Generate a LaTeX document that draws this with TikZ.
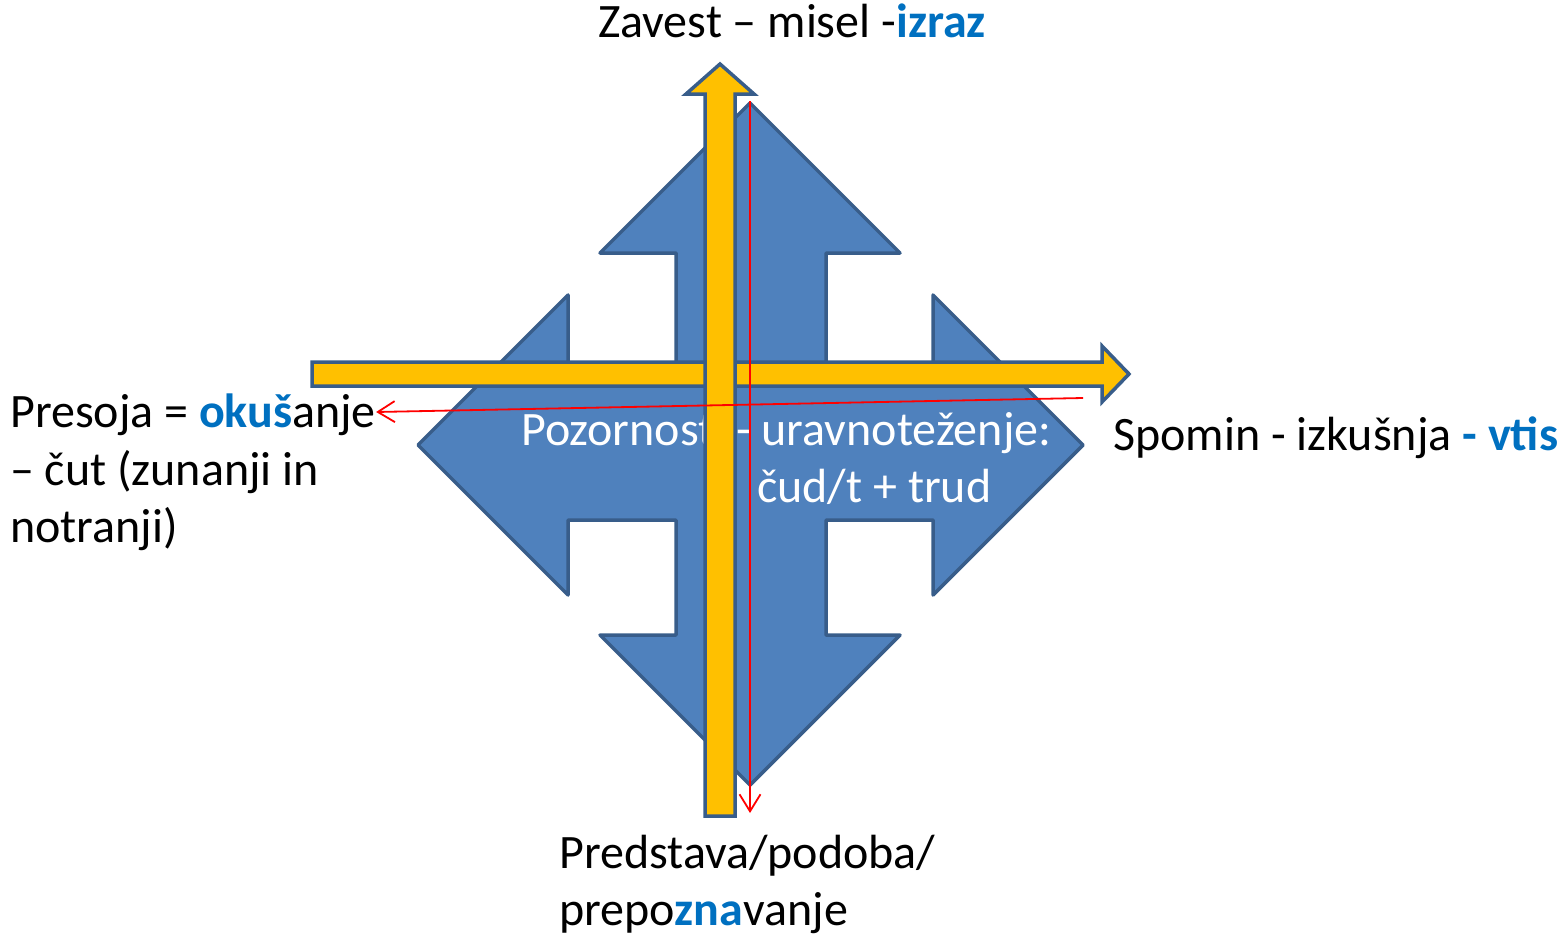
\documentclass[tikz,border=0pt]{standalone}
\usepackage{fontspec}
\setmainfont{Carlito}
\usetikzlibrary{arrows.meta}
\definecolor{arrowblue}{HTML}{4F81BD}
\definecolor{edgeblue}{HTML}{385D8A}
\definecolor{bargold}{HTML}{FFC000}
\definecolor{wordblue}{HTML}{0070C0}
\newcommand{\bigtext}{\fontsize{48}{58}\selectfont}
\newcommand{\keyword}[1]{\textbf{\color{wordblue}#1}}
\tikzset{
    % The big four way arrow in the middle
    cross fill/.style={fill=arrowblue, draw=edgeblue, line width=3.5pt,
        line join=round},
%
    % The two thin yellow arrows across it
    bar fill/.style={fill=bargold, draw=edgeblue, line width=3.5pt},
%
    % Thin red pointers drawn on top
    pointer/.style={red, line width=1.8pt,
        -{Straight Barb[length=17pt, width=21pt]}},
%
    % Every piece of text is set on its own baseline
    caption/.style={anchor=base west, inner sep=0pt, font=\bigtext}}

\begin{document}
\begin{tikzpicture}[x=1pt, y=-1pt]
\useasboundingbox (0,0) rectangle (1562,935);

% four way arrow
\draw [cross fill]
    (750,103) -- (900,253) -- (826,253) -- (826,370) -- (933,370) --
    (933,295) -- (1083,445) -- (933,595) -- (933,520) -- (826,520) --
    (826,635) -- (900,635) -- (750,785) -- (600,635) -- (676,635) --
    (676,520) -- (568,520) -- (568,595) -- (418,445) -- (568,295) --
    (568,370) -- (676,370) -- (676,253) -- (600,253) -- cycle;

\node [caption, white] (inner1) at (521,445) {Pozornost~ - uravnoteženje:};
\node [caption, white] (inner2) at (757,502) {čud/t + trud};

% yellow arrows
\draw [bar fill]
    (312,362) -- (1102,362) -- (1102,346) -- (1129,374) -- (1102,402) --
    (1102,386) -- (312,386) -- cycle;
\draw [bar fill]
    (720,64) -- (754,94) -- (735,94) -- (735,816) -- (705,816) --
    (705,94) -- (686,94) -- cycle;

% labels round the cross
\node [caption] (top) at (598,37)
    {Zavest – misel -\keyword{izraz}};
\node [caption] (right) at (1113,450)
    {Spomin - izkušnja \keyword{- vtis}};
\node [caption] (left1) at (10,427) {Presoja = \keyword{okuš}anje};
\node [caption] (left2) at (10,485) {– čut (zunanji in};
\node [caption] (left3) at (10,542) {notranji)};
\node [caption] (bottom1) at (559,868) {Predstava/podoba/};
\node [caption] (bottom2) at (559,925) {prepo\keyword{zna}vanje};

% red pointers
\coordinate (down from) at (750,101);
\coordinate (down to) at (750,813);
\coordinate (left from) at (1083,398);
\draw [pointer] (down from) -- (down to);
\draw [pointer] (left from) -- (left1.base east |- 0,412);

\end{tikzpicture}
\end{document}
